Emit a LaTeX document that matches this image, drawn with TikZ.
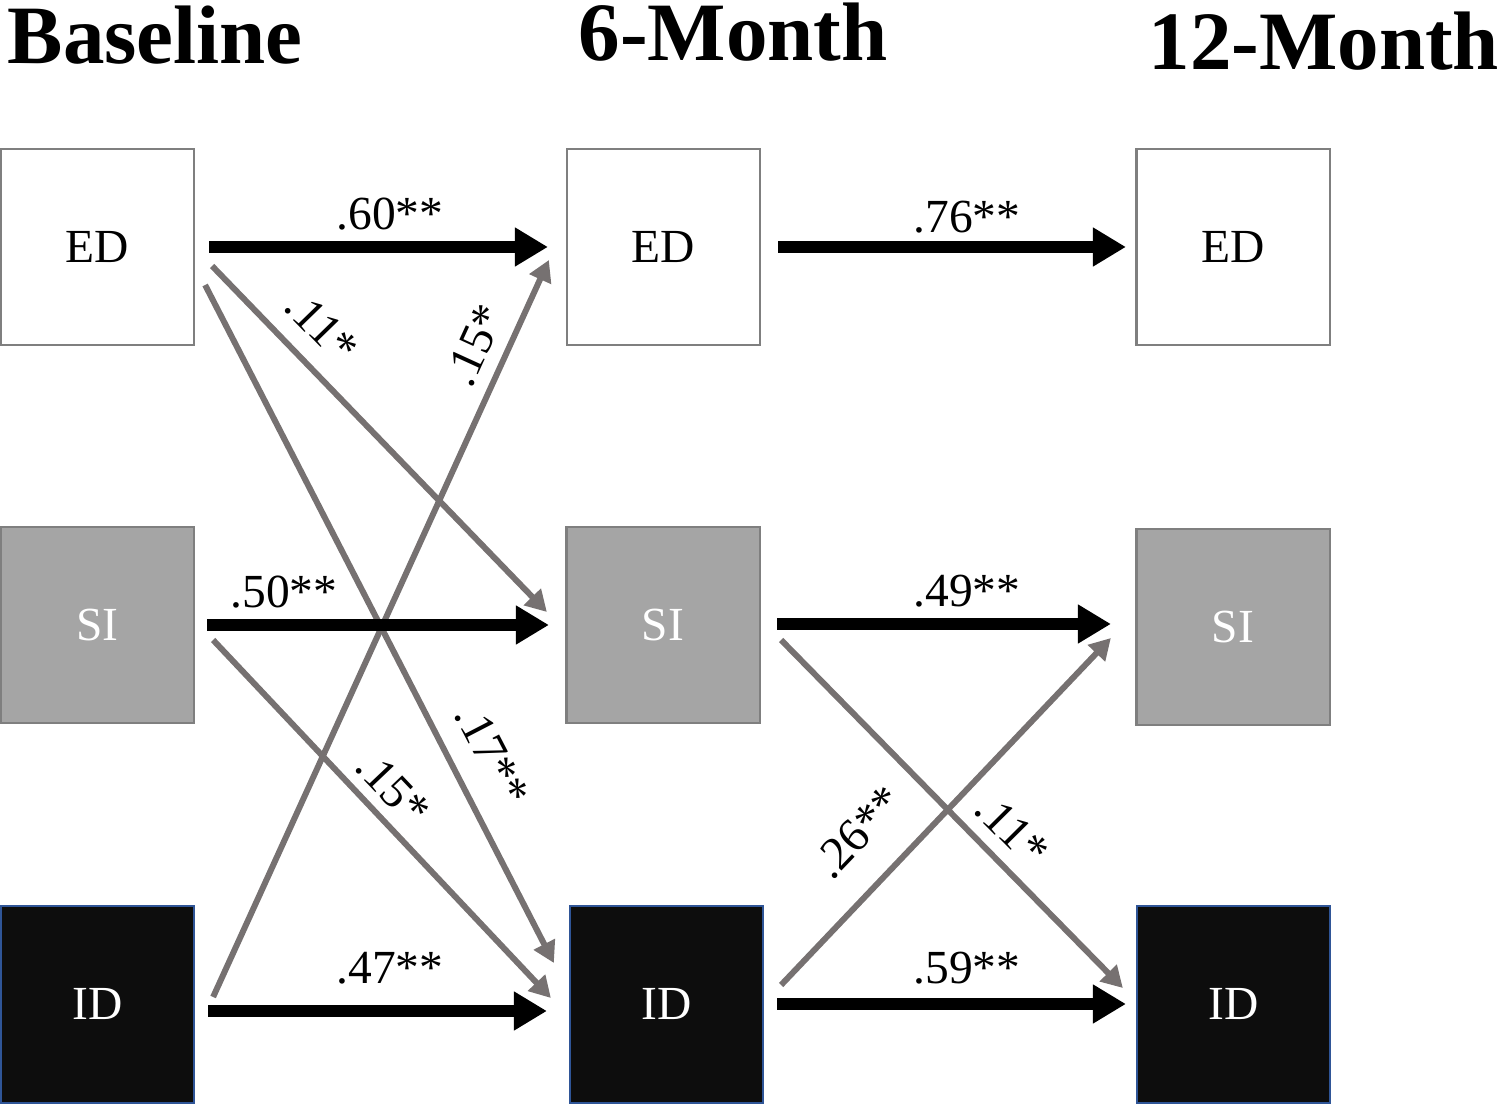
\documentclass[tikz,border=0pt]{standalone}
\usepackage{fontspec}
\setmainfont{Liberation Serif}
\usetikzlibrary{arrows.meta,calc}

\definecolor{arrgray}{HTML}{767171}
\definecolor{boxline}{HTML}{7F7F7F}
\definecolor{sifill}{HTML}{A5A5A5}
\definecolor{idfill}{HTML}{0D0D0D}
\definecolor{idline}{HTML}{2F5597}

\tikzset{
  box/.style={rectangle,draw=boxline,line width=0.6pt,minimum width=1.93cm,
    minimum height=1.96cm,inner sep=0pt,font=\fontsize{13.5}{16}\selectfont},
  edbox/.style={box,fill=white},
  sibox/.style={box,fill=sifill,text=white},
  idbox/.style={box,fill=idfill,draw=idline,text=white},
  blkarr/.style={line width=3.6pt,-{Triangle[length=9.4pt,width=10.5pt]}},
  grayarr/.style={arrgray,line width=1.7pt,-{Triangle[length=6pt,width=6.5pt]}},
  coef/.style={inner sep=0pt,font=\fontsize{13.5}{16}\selectfont},
  hdr/.style={anchor=base west,inner sep=0pt,font=\bfseries\fontsize{23.6}{28}\selectfont}
}

\begin{document}
\begin{tikzpicture}[x=0.01cm,y=-0.01cm]
  \useasboundingbox (0,0) rectangle (1500,1104);

  \node (hbase) at (7,64) [hdr]{Baseline};
  \node (hsix) at (578,61) [hdr]{6-Month};
  \node (htwelve) at (1148,70) [hdr]{12-Month};

  \node (bED) at (97.5,247) [edbox]{ED};
  \node (bSI) at (97.5,625) [sibox]{SI};
  \node (bID) at (97.5,1004.5) [idbox]{ID};
  \node (mED) at (663.5,247) [edbox]{ED};
  \node (mSI) at (663,625) [sibox]{SI};
  \node (mID) at (666.5,1004.5) [idbox]{ID};
  \node (tED) at (1233,247) [edbox]{ED};
  \node (tSI) at (1233,627) [sibox]{SI};
  \node (tID) at (1233.5,1004.5) [idbox]{ID};

  \draw[grayarr] ($(bED.east)+(17,19)$) -- ($(mSI.west)+(-18.5,-13)$);
  \draw[grayarr] ($(bED.east)+(10,38)$) -- ($(mID.west)+(-15,-41.5)$);
  \draw[grayarr] ($(bSI.east)+(18,15)$) -- ($(mID.west)+(-18,-6.5)$);
  \draw[grayarr] ($(bID.east)+(18,-7.5)$) -- ($(mED.west)+(-17,13)$);
  \draw[grayarr] ($(mSI.east)+(20.5,15)$) -- ($(tID.west)+(-13,-16.5)$);
  \draw[grayarr] ($(mID.east)+(17,-19.5)$) -- ($(tSI.west)+(-24.5,11)$);

  \draw[blkarr] ($(bED.east)+(14,0)$) -- ($(mED.west)+(-18,0)$);
  \draw[blkarr] ($(mED.east)+(17,0)$) -- ($(tED.west)+(-9.5,0)$);
  \draw[blkarr] ($(bSI.east)+(12,0)$) -- ($(mSI.west)+(-16.5,0)$);
  \draw[blkarr] ($(mSI.east)+(16.5,-1)$) -- ($(tSI.west)+(-24.5,-3)$);
  \draw[blkarr] ($(bID.east)+(13,6.5)$) -- ($(mID.west)+(-22,6.5)$);
  \draw[blkarr] ($(mID.east)+(13,-0.5)$) -- ($(tID.west)+(-10,-0.5)$);

  \node (c60) at (390,214) [coef]{.60**};
  \node (c76) at (967,217) [coef]{.76**};
  \node (c50) at (284,592) [coef]{.50**};
  \node (c49) at (967,591) [coef]{.49**};
  \node (c47) at (390,968) [coef]{.47**};
  \node (c59) at (967,968) [coef]{.59**};
  \node (c11a) at (322,327) [coef,rotate=-45.8]{.11*};
  \node (c15a) at (475,345) [coef,rotate=65.4]{.15*};
  \node (c17) at (492,755) [coef,rotate=-62.6]{.17**};
  \node (c15b) at (393,788) [coef,rotate=-46.5]{.15*};
  \node (c26) at (858,832) [coef,rotate=46.3]{.26**};
  \node (c11b) at (1012,830) [coef,rotate=-45.2]{.11*};

\end{tikzpicture}
\end{document}
